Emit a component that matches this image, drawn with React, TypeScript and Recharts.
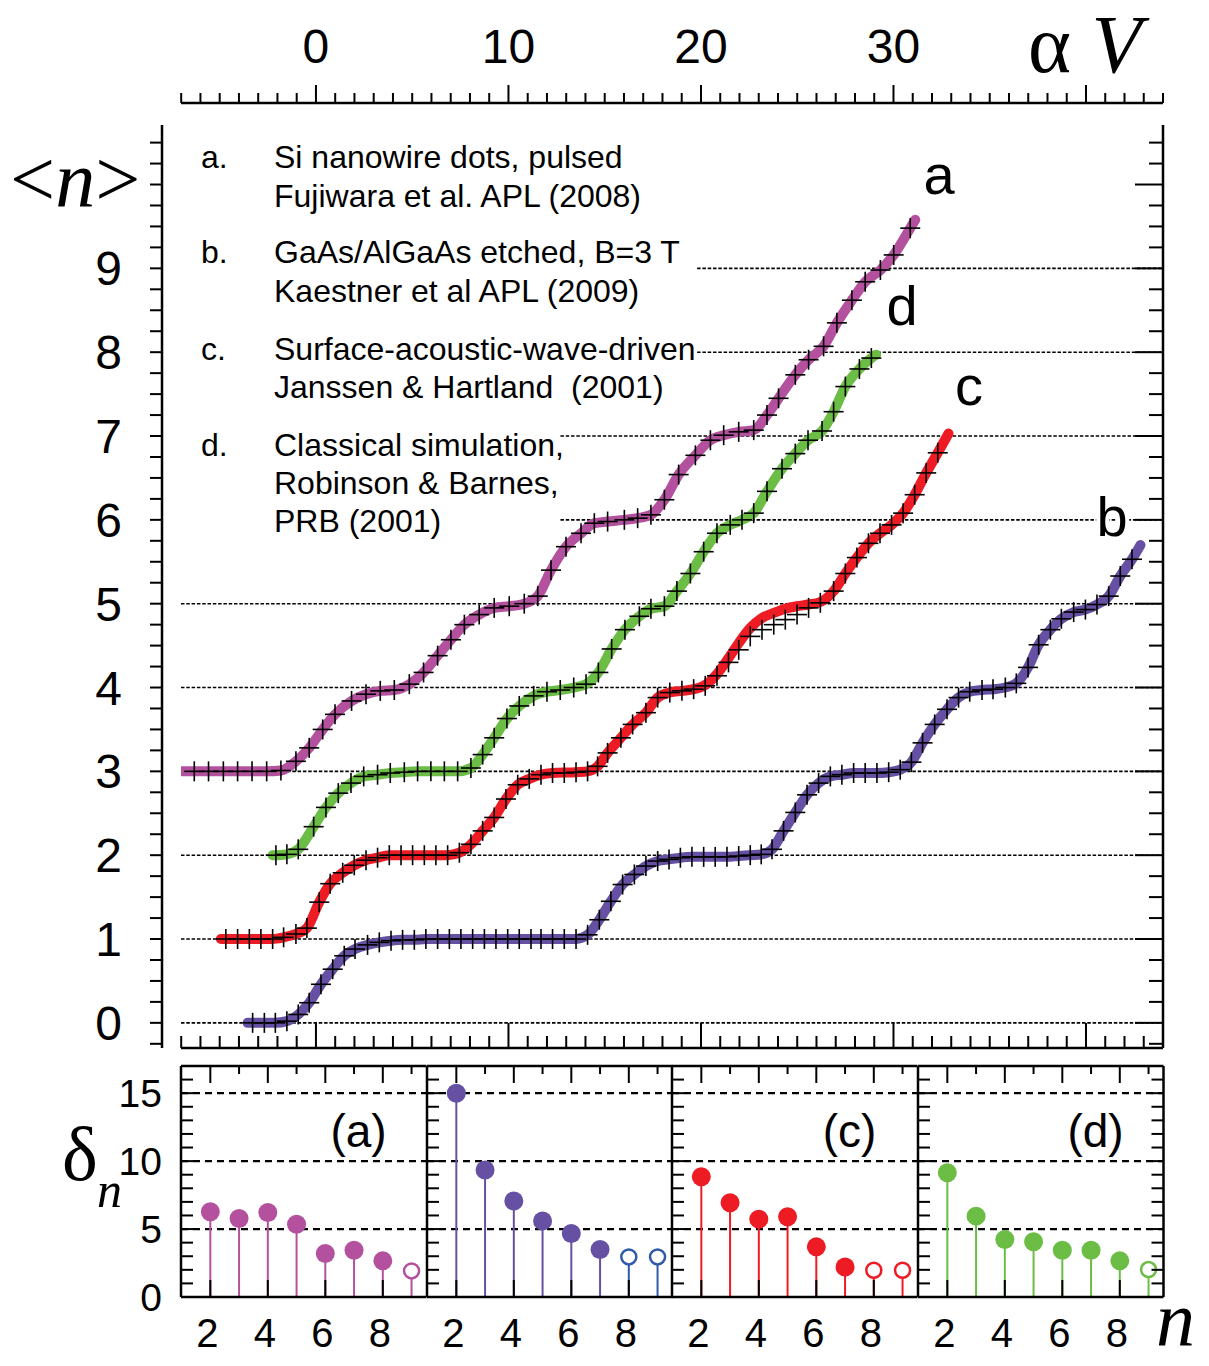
import React from 'react';
import { ComposedChart, Line, Scatter, XAxis, YAxis, ReferenceLine } from 'recharts';

const SANS = '"Liberation Sans", Arial, Helvetica, sans-serif';
const SERIF = '"Liberation Serif", "Times New Roman", serif';

// Mean electron number <n> against scaled gate voltage αV, as [αV, <n>] pairs.
// First and last pair of each curve only end the fitted line; the rest carry a cross.
const curveA: [number, number][] = [
  [-7.0, 3.0], [-6.32, 3.0], [-5.58, 3.0], [-4.81, 3.0], [-4.07, 3.0], [-3.32, 3.0], [-2.56, 3.0], [-1.82, 3.01],
  [-1.04, 3.12], [-0.35, 3.28], [0.35, 3.5], [0.99, 3.68], [1.85, 3.84], [2.6, 3.92], [3.34, 3.96], [4.07, 3.97],
  [4.85, 4.04], [5.59, 4.18], [6.32, 4.38], [7.01, 4.57], [7.71, 4.75], [8.48, 4.87], [9.26, 4.95], [10.04, 4.97],
  [10.82, 5.0], [11.52, 5.09], [12.21, 5.4], [12.99, 5.68], [13.77, 5.84], [14.46, 5.96], [15.15, 5.98], [16.02, 6.0],
  [16.71, 6.02], [17.4, 6.06], [18.1, 6.24], [18.84, 6.54], [19.71, 6.77], [20.49, 6.95], [21.18, 7.01], [21.96, 7.05],
  [22.74, 7.07], [23.43, 7.25], [24.03, 7.45], [24.9, 7.73], [25.59, 7.91], [26.37, 8.07], [27.06, 8.35], [27.84, 8.62],
  [28.53, 8.84], [29.32, 8.98], [30.01, 9.16], [30.87, 9.48], [31.13, 9.58],
];

const curveB: [number, number][] = [
  [-3.55, 0.0], [-3.29, 0.0], [-2.68, 0.0], [-2.11, 0.0], [-1.51, 0.02], [-0.92, 0.1], [-0.35, 0.24], [0.26, 0.46],
  [0.87, 0.64], [1.47, 0.8], [2.03, 0.88], [2.68, 0.93], [3.29, 0.96], [3.9, 0.98], [4.5, 0.99], [5.11, 0.99],
  [5.71, 1.0], [6.32, 1.0], [6.93, 1.0], [7.53, 1.0], [8.14, 1.0], [8.75, 1.0], [9.35, 1.0], [9.96, 1.0],
  [10.56, 1.0], [11.17, 1.0], [11.69, 1.0], [12.29, 1.0], [12.9, 1.0], [13.51, 1.0], [14.11, 1.05], [14.72, 1.23],
  [15.32, 1.45], [15.93, 1.65], [16.54, 1.77], [17.14, 1.87], [17.75, 1.93], [18.34, 1.95], [18.93, 1.97], [19.53, 1.98],
  [20.14, 1.98], [20.74, 1.98], [21.35, 1.98], [21.96, 1.99], [22.56, 2.0], [23.13, 2.01], [23.69, 2.07], [24.29, 2.29],
  [24.9, 2.51], [25.51, 2.72], [26.11, 2.86], [26.72, 2.94], [27.32, 2.96], [27.93, 2.98], [28.53, 2.98], [29.14, 2.98],
  [29.75, 2.99], [30.35, 3.02], [30.93, 3.11], [31.51, 3.34], [32.14, 3.56], [32.78, 3.74], [33.38, 3.88], [33.96, 3.95],
  [34.6, 3.97], [35.17, 3.98], [35.81, 4.0], [36.38, 4.05], [36.99, 4.24], [37.54, 4.51], [38.15, 4.69], [38.72, 4.82],
  [39.36, 4.9], [39.97, 4.93], [40.57, 4.99], [41.18, 5.09], [41.78, 5.33], [42.39, 5.53], [42.83, 5.7],
];

const curveC: [number, number][] = [
  [-4.94, 1.0], [-4.68, 1.0], [-4.07, 1.0], [-3.46, 1.0], [-2.86, 1.0], [-2.25, 1.0], [-1.68, 1.02], [-1.04, 1.06],
  [-0.47, 1.13], [0.17, 1.44], [0.74, 1.66], [1.39, 1.79], [1.99, 1.88], [2.6, 1.94], [3.2, 1.97], [3.81, 2.0],
  [4.42, 2.0], [5.02, 2.0], [5.63, 2.0], [6.23, 2.0], [6.84, 2.0], [7.45, 2.03], [8.05, 2.13], [8.66, 2.29],
  [9.26, 2.45], [9.87, 2.67], [10.48, 2.84], [11.08, 2.91], [11.69, 2.96], [12.29, 2.98], [12.9, 2.98], [13.51, 2.99],
  [14.11, 3.0], [14.63, 3.06], [15.15, 3.22], [15.84, 3.4], [16.45, 3.56], [17.14, 3.7], [17.75, 3.88], [18.38, 3.94],
  [19.01, 3.96], [19.62, 3.98], [20.22, 4.02], [20.83, 4.14], [21.43, 4.3], [21.96, 4.45], [22.56, 4.61], [23.17, 4.69],
  [23.78, 4.75], [24.38, 4.81], [24.99, 4.87], [25.59, 4.95], [26.2, 5.01], [26.89, 5.15], [27.5, 5.36], [28.1, 5.55],
  [28.7, 5.72], [29.3, 5.84], [29.9, 5.94], [30.5, 6.08], [31.1, 6.3], [31.7, 6.56], [32.3, 6.8], [32.86, 7.03],
];

// Fitted curve for c runs above its data on the 4 -> 5 step
const fitC: [number, number][] = [
  [-4.94, 1.0], [-2.25, 1.0], [-1.68, 1.02], [-1.04, 1.06], [-0.47, 1.13], [0.17, 1.44], [0.74, 1.66], [1.39, 1.79],
  [1.99, 1.88], [2.6, 1.94], [3.2, 1.97], [3.81, 2.0], [6.84, 2.0], [7.45, 2.03], [8.05, 2.13], [8.66, 2.29],
  [9.26, 2.45], [9.87, 2.67], [10.48, 2.84], [11.08, 2.91], [11.69, 2.96], [12.29, 2.98], [13.51, 2.99], [14.11, 3.0],
  [14.63, 3.06], [15.15, 3.22], [15.84, 3.4], [16.45, 3.56], [17.14, 3.7], [17.75, 3.88], [18.38, 3.94], [19.01, 3.96],
  [19.62, 3.98], [20.22, 4.03], [20.83, 4.16], [21.43, 4.35], [21.96, 4.53], [22.56, 4.71], [23.17, 4.83], [23.78, 4.89],
  [24.38, 4.94], [24.99, 4.97], [25.59, 4.99], [26.2, 5.02], [26.89, 5.15], [27.5, 5.36], [28.1, 5.55], [28.7, 5.72],
  [29.3, 5.84], [29.9, 5.94], [30.5, 6.08], [31.1, 6.3], [31.7, 6.56], [32.3, 6.8], [32.86, 7.03],
];

const curveD: [number, number][] = [
  [-2.25, 2.0], [-2.08, 2.0], [-1.51, 2.01], [-0.92, 2.07], [-0.12, 2.34], [0.52, 2.57], [1.16, 2.74], [1.82, 2.86],
  [2.48, 2.94], [3.2, 2.96], [3.86, 2.98], [4.59, 2.99], [5.28, 3.0], [5.97, 3.0], [6.67, 3.0], [7.36, 3.0],
  [8.05, 3.04], [8.66, 3.2], [9.26, 3.4], [9.92, 3.63], [10.56, 3.78], [11.31, 3.9], [12.0, 3.95], [12.69, 3.97],
  [13.39, 4.0], [14.03, 4.04], [14.67, 4.18], [15.36, 4.46], [16.05, 4.69], [16.8, 4.85], [17.4, 4.94], [18.1, 4.97],
  [18.75, 5.15], [19.45, 5.36], [20.14, 5.62], [20.83, 5.84], [21.52, 5.94], [22.13, 6.0], [22.74, 6.08], [23.43, 6.34],
  [24.21, 6.61], [24.9, 6.79], [25.56, 6.95], [26.29, 7.06], [26.89, 7.29], [27.5, 7.59], [28.23, 7.8], [28.85, 7.93],
  [29.1, 7.97],
];

// Integer plateaus marked by dotted guides; upper ones start where the notes end
const fullGuides = [0, 1, 2, 3, 4, 5];
const partialGuides: [number, number][] = [[6, 12.7], [7, 12.7], [8, 19.8], [9, 19.8]];

// Step-height parameter δn per curve
const nValues = [2, 3, 4, 5, 6, 7, 8, 9];
const deltaA = [6.27, 5.78, 6.22, 5.36, 3.2, 3.44, 2.66, 1.92];
const deltaB = [15.0, 9.34, 7.06, 5.6, 4.67, 3.5, 2.95, 2.95];
const deltaC = [8.85, 6.93, 5.73, 5.9, 3.69, 2.21, 1.97, 1.97];
const deltaD = [9.14, 5.95, 4.23, 4.06, 3.44, 3.44, 2.66, 2.02];
const filledA = [true, true, true, true, true, true, true, false];
const filledB = [true, true, true, true, true, true, false, false];
const filledC = [true, true, true, true, true, true, false, false];
const filledD = [true, true, true, true, true, true, true, false];

const MAGENTA = '#b4519f';
const PURPLE = '#6650a3';
const BLUE = '#2f59a9';
const RED = '#ed1c24';
const GREEN = '#6bbd45';

const V_DOMAIN: [number, number] = [-7.01, 44.0];
const N_DOMAIN: [number, number] = [-0.3, 10.71];
const vTicks = Array.from({ length: 52 }, (_, i) => i - 7);
const nTicks = Array.from({ length: 44 }, (_, i) => -0.25 + i * 0.25);
const topLabels = [0, 10, 20, 30];

const toPoints = (c: [number, number][]) => c.map(([V, n]) => ({ V, n }));

const crossFor = (count: number) => (props: any) => {
  const { cx, cy, index } = props;
  if (index === 0 || index === count - 1 || cx == null || cy == null) return <g key={`x${index}`} />;
  return (
    <g key={`x${index}`}>
      <line x1={cx - 10} x2={cx + 10} y1={cy} y2={cy} stroke="#000" strokeWidth={1.6} />
      <line x1={cx} x2={cx} y1={cy - 10} y2={cy + 10} stroke="#000" strokeWidth={1.6} />
    </g>
  );
};

const isWhole = (v: number) => Math.abs(v - Math.round(v)) < 1e-6;

const BottomTick = (p: any) => {
  const v = p.payload.value;
  const len = v % 10 === 0 ? 25 : 12;
  return <line x1={p.x} x2={p.x} y1={p.y} y2={p.y - len} stroke="#000" strokeWidth={2} />;
};

// αV scale above the plot: ticks rise from its own line
const TopTick = (p: any) => {
  const v = p.payload.value;
  const major = v % 10 === 0;
  return (
    <g>
      <line x1={p.x} x2={p.x} y1={p.y} y2={p.y - (major ? 18 : 10)} stroke="#000" strokeWidth={2} />
      {topLabels.includes(v) && (
        <text x={p.x} y={p.y - 40} textAnchor="middle" fontSize={48} fontFamily={SANS} fill="#000">
          {v}
        </text>
      )}
    </g>
  );
};

const LeftTick = (p: any) => {
  const v = p.payload.value;
  const showLabel = isWhole(v) && v >= 0 && v <= 9;
  return (
    <g>
      <line x1={p.x} x2={p.x - 12} y1={p.y} y2={p.y} stroke="#000" strokeWidth={2} />
      {showLabel && (
        <text x={p.x - 40} y={p.y + 17} textAnchor="end" fontSize={48} fontFamily={SANS} fill="#000">
          {Math.round(v)}
        </text>
      )}
    </g>
  );
};

const RightTick = (p: any) => {
  const v = p.payload.value;
  const len = isWhole(v) ? 28 : 14;
  return <line x1={p.x} x2={p.x - len} y1={p.y} y2={p.y} stroke="#000" strokeWidth={2} />;
};

const axisStroke = { stroke: '#000', strokeWidth: 2.5 };

function MainChart() {
  const series: { pts: [number, number][]; fit: [number, number][]; color: string; id: string }[] = [
    { pts: curveB, fit: curveB, color: PURPLE, id: 'b' },
    { pts: curveC, fit: fitC, color: RED, id: 'c' },
    { pts: curveD, fit: curveD, color: GREEN, id: 'd' },
    { pts: curveA, fit: curveA, color: MAGENTA, id: 'a' },
  ];
  return (
    <ComposedChart width={1209} height={1060} margin={{ top: 0, right: 0, bottom: 0, left: 0 }}>
      <XAxis xAxisId="t0gap" orientation="top" type="number" dataKey="V" domain={V_DOMAIN} height={22}
        tick={false} axisLine={false} tickLine={false} allowDataOverflow />
      <XAxis xAxisId="t1scale" orientation="top" type="number" dataKey="V" domain={V_DOMAIN} ticks={vTicks} interval={0} height={103}
        tickSize={0} tickMargin={0} tickLine={false} axisLine={axisStroke} tick={TopTick} allowDataOverflow />
      <XAxis xAxisId="bottom" dataKey="V" type="number" domain={V_DOMAIN} ticks={vTicks} interval={0} height={12}
        tickSize={0} tickMargin={0} tickLine={false} axisLine={axisStroke} tick={BottomTick} allowDataOverflow />
      <YAxis yAxisId="l0pad" type="number" dataKey="n" domain={N_DOMAIN} width={19} tick={false} axisLine={false} tickLine={false} allowDataOverflow />
      <YAxis yAxisId="l1axis" dataKey="n" type="number" domain={N_DOMAIN} ticks={nTicks} interval={0} width={162}
        tickSize={0} tickMargin={0} tickLine={false} axisLine={axisStroke} tick={LeftTick} allowDataOverflow />
      <YAxis yAxisId="right" orientation="right" type="number" domain={N_DOMAIN} ticks={nTicks} interval={0} width={46}
        tickSize={0} tickMargin={0} tickLine={false} axisLine={axisStroke} tick={RightTick} allowDataOverflow />

      {fullGuides.map((g) => (
        <ReferenceLine key={`g${g}`} xAxisId="bottom" yAxisId="l1axis" y={g} stroke="#000" strokeWidth={1.6} strokeDasharray="3.5 1.8" />
      ))}
      {partialGuides.map(([g, from]) => (
        <ReferenceLine key={`p${g}`} xAxisId="bottom" yAxisId="l1axis" segment={[{ x: from, y: g }, { x: V_DOMAIN[1], y: g }]}
          stroke="#000" strokeWidth={1.6} strokeDasharray="3.5 1.8" />
      ))}

      {series.map((s) => (
        <Line key={`f${s.id}`} xAxisId="bottom" yAxisId="l1axis" data={toPoints(s.fit)} dataKey="n" type="monotone"
          stroke={s.color} strokeWidth={10} strokeLinecap="round" strokeLinejoin="round"
          dot={false} activeDot={false} isAnimationActive={false} />
      ))}
      {series.map((s) => (
        <Line key={`m${s.id}`} xAxisId="t1scale" yAxisId="l0pad" data={toPoints(s.pts)} dataKey="n" type="monotone"
          stroke="none" dot={crossFor(s.pts.length)} activeDot={false} isAnimationActive={false} />
      ))}
    </ComposedChart>
  );
}

const PANEL_W = 245.5;
const PANEL_PAD = 70;
const P_DOMAIN: [number, number] = [0.98, 9.52];
const D_DOMAIN: [number, number] = [0, 17];
const panelYTicks = Array.from({ length: 17 }, (_, i) => i);
const panelLabels = [0, 5, 10, 15];

function DeltaPanel(props: {
  index: number; values: number[]; filled: boolean[]; color: string; openColor: string; label?: string;
}) {
  const { index, values, filled, color, openColor, label } = props;
  const plotLeft = 181 + index * PANEL_W;
  const isFirst = index === 0;
  const isLast = index === 3;
  const data = nValues.map((n, i) => ({ n, v: values[i], filled: filled[i] }));

  const PanelLeftTick = (p: any) => {
    const v = p.payload.value;
    return (
      <g>
        {v > 0 && <line x1={p.x} x2={p.x + 12} y1={p.y} y2={p.y} stroke="#000" strokeWidth={2} />}
        {isFirst && panelLabels.includes(v) && (
          <text x={p.x - 19} y={p.y + 14} textAnchor="end" fontSize={39} fontFamily={SANS} fill="#000">{v}</text>
        )}
      </g>
    );
  };
  const PanelRightTick = (p: any) => {
    const v = p.payload.value;
    return v > 0 ? <line x1={p.x} x2={p.x - 12} y1={p.y} y2={p.y} stroke="#000" strokeWidth={2} /> : <g />;
  };
  const PanelTopTick = (p: any) => {
    const v = p.payload.value;
    return <line x1={p.x} x2={p.x} y1={p.y} y2={p.y + (v % 2 === 0 ? 17 : 8)} stroke="#000" strokeWidth={2} />;
  };
  const PanelBottomTick = (p: any) => (
    <g>
      <line x1={p.x} x2={p.x} y1={p.y} y2={p.y - 17} stroke="#000" strokeWidth={2} />
      <text x={p.x - 3} y={p.y + 50} textAnchor="middle" fontSize={40} fontFamily={SANS} fill="#000">{p.payload.value}</text>
    </g>
  );
  const Marker = (p: any) => {
    const { cx, cy, payload } = p;
    if (cx == null || cy == null) return <g />;
    return payload.filled ? (
      <circle cx={cx} cy={cy} r={9.5} fill={color} />
    ) : (
      <circle cx={cx} cy={cy} r={7.5} fill="#fff" stroke={openColor} strokeWidth={2.5} />
    );
  };

  return (
    <div style={{ position: 'absolute', left: plotLeft - PANEL_PAD, top: 1040 }}>
      <ComposedChart width={PANEL_PAD + PANEL_W + 6} height={317} margin={{ top: 0, right: isLast ? 0 : 6, bottom: 0, left: 0 }}>
        <XAxis xAxisId="t" orientation="top" dataKey="n" type="number" domain={P_DOMAIN} ticks={nValues} interval={0} height={26}
          tickSize={0} tickMargin={0} tickLine={false} axisLine={axisStroke} tick={PanelTopTick} allowDataOverflow />
        <XAxis xAxisId="b" dataKey="n" type="number" domain={P_DOMAIN} ticks={[2, 4, 6, 8]} interval={0} height={60}
          tickSize={0} tickMargin={0} tickLine={false} axisLine={axisStroke} tick={PanelBottomTick} allowDataOverflow />
        <YAxis yAxisId="l" dataKey="v" type="number" domain={D_DOMAIN} ticks={panelYTicks} interval={0} width={PANEL_PAD}
          tickSize={0} tickMargin={0} tickLine={false} axisLine={axisStroke} tick={PanelLeftTick} allowDataOverflow />
        {isLast && (
          <YAxis yAxisId="r" orientation="right" type="number" domain={D_DOMAIN} ticks={panelYTicks} interval={0} width={6}
            tickSize={0} tickMargin={0} tickLine={false} axisLine={axisStroke} tick={PanelRightTick} allowDataOverflow />
        )}
        {[5, 10, 15].map((g) => (
          <ReferenceLine key={`d${g}`} xAxisId="b" yAxisId="l" y={g} stroke="#000" strokeWidth={2.2} strokeDasharray="7 5" />
        ))}
        {data.map((d) => (
          <ReferenceLine key={`s${d.n}`} xAxisId="b" yAxisId="l" segment={[{ x: d.n, y: 0 }, { x: d.n, y: d.v }]}
            stroke={d.filled ? color : openColor} strokeWidth={2} />
        ))}
        <Scatter xAxisId="b" yAxisId="l" data={data} dataKey="v" shape={Marker} isAnimationActive={false} />
      </ComposedChart>
      {label && (
        <svg width={PANEL_PAD + PANEL_W + 6} height={317} style={{ position: 'absolute', left: 0, top: 0 }}>
          <text x={PANEL_PAD + PANEL_W - 68} y={107} textAnchor="middle" fontSize={46} fontFamily={SANS} fill="#000">{label}</text>
        </svg>
      )}
    </div>
  );
}

function Notes() {
  const t = { fontSize: 32, fontFamily: SANS, fill: '#000', style: { whiteSpace: 'pre' as const } };
  const big = { fontSize: 56, fontFamily: SANS, fill: '#000', textAnchor: 'middle' as const };
  return (
    <svg width={1209} height={1366} style={{ position: 'absolute', left: 0, top: 0, pointerEvents: 'none' }}>
      <text x={201} y={168} {...t}>a.</text>
      <text x={274} y={168} {...t}>Si nanowire dots, pulsed</text>
      <text x={274} y={207} {...t}>Fujiwara et al. APL (2008)</text>
      <text x={201} y={263} {...t}>b.</text>
      <text x={274} y={263} {...t}>GaAs/AlGaAs etched, B=3 T</text>
      <text x={274} y={302} {...t}>Kaestner et al APL (2009)</text>
      <text x={201} y={360} {...t}>c.</text>
      <text x={274} y={360} {...t}>Surface-acoustic-wave-driven</text>
      <text x={274} y={398} {...t}>Janssen &amp; Hartland  (2001)</text>
      <text x={201} y={456} {...t}>d.</text>
      <text x={274} y={456} {...t}>Classical simulation,</text>
      <text x={274} y={494} {...t}>Robinson &amp; Barnes,</text>
      <text x={274} y={532} {...t}>PRB (2001)</text>

      <text x={939} y={194} {...big}>a</text>
      <text x={902} y={325} {...big}>d</text>
      <text x={969} y={405} {...big}>c</text>
      <text x={1112} y={536} {...big} stroke="#fff" strokeWidth={8} style={{ paintOrder: 'stroke' }}>b</text>

      <text x={10} y={206} fontSize={80} fontFamily={SERIF} fill="#000">
        &lt;<tspan fontStyle="italic">n</tspan>&gt;
      </text>
      <text x={1028} y={72} fontSize={82} fontFamily={SERIF} fill="#000">
        α <tspan fontStyle="italic">V</tspan>
      </text>
      <text x={62} y={1180} fontSize={76} fontFamily={SERIF} fill="#000">δ</text>
      <text x={97} y={1207} fontSize={50} fontFamily={SERIF} fontStyle="italic" fill="#000">n</text>
      <text x={1156} y={1346} fontSize={78} fontFamily={SERIF} fontStyle="italic" fill="#000">n</text>
    </svg>
  );
}

export default function App() {
  return (
    <div style={{ position: 'absolute', left: 0, top: 0, width: 1209, height: 1366, background: '#fff' }}>
      <div style={{ position: 'absolute', left: 0, top: 0 }}>
        <MainChart />
      </div>
      <DeltaPanel index={0} values={deltaA} filled={filledA} color={MAGENTA} openColor={MAGENTA} label="(a)" />
      <DeltaPanel index={1} values={deltaB} filled={filledB} color={PURPLE} openColor={BLUE} />
      <DeltaPanel index={2} values={deltaC} filled={filledC} color={RED} openColor={RED} label="(c)" />
      <DeltaPanel index={3} values={deltaD} filled={filledD} color={GREEN} openColor={GREEN} label="(d)" />
      <Notes />
    </div>
  );
}
